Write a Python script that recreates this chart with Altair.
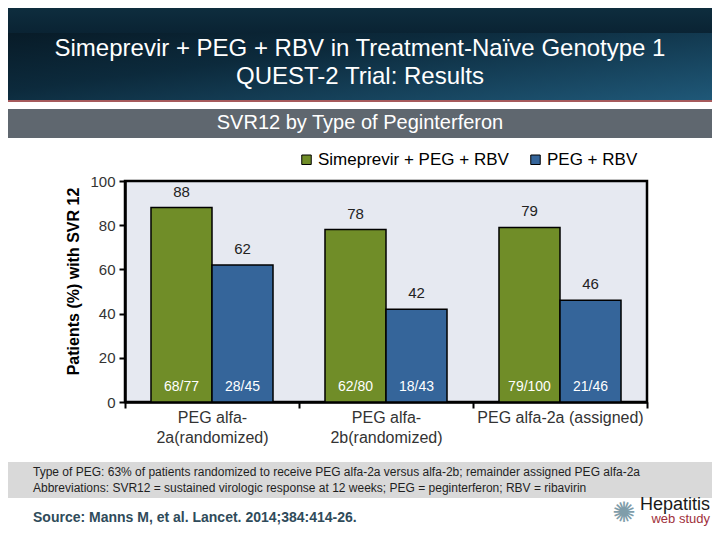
import altair as alt
import pandas as pd

# ---- data ----
groups = ["PEG alfa-|2a(randomized)", "PEG alfa-|2b(randomized)", "PEG alfa-2a (assigned)"]
series = ["Simeprevir + PEG + RBV", "PEG + RBV"]
sim_values = [88, 78, 79]
peg_values = [62, 42, 46]
sim_fracs = ["68/77", "62/80", "79/100"]
peg_fracs = ["28/45", "18/43", "21/46"]
colors = ["#708D28", "#35659A"]

title_lines = ["Simeprevir + PEG + RBV in Treatment-Naïve Genotype 1", "QUEST-2 Trial: Results"]
subtitle = "SVR12 by Type of Peginterferon"
footnotes = [
    "Type of PEG: 63% of patients randomized to receive PEG alfa-2a versus alfa-2b; remainder assigned PEG alfa-2a",
    "Abbreviations: SVR12 = sustained virologic response at 12 weeks; PEG = peginterferon; RBV = ribavirin",
]
source = "Source: Manns M, et al. Lancet. 2014;384:414-26."

rows = []
for g, v1, v2, f1, f2 in zip(groups, sim_values, peg_values, sim_fracs, peg_fracs):
    rows.append({"group": g, "series": series[0], "value": v1, "frac": f1})
    rows.append({"group": g, "series": series[1], "value": v2, "frac": f2})
df = pd.DataFrame(rows)
one = pd.DataFrame({"k": [0]})

FONT = "Liberation Sans"
W, H = 522, 221
PL, PT, PR, PB = 117, 173, 65, 124

x_enc = alt.X(
    "group:N", sort=groups,
    scale=alt.Scale(paddingInner=0, paddingOuter=0),
    axis=alt.Axis(
        title=None, labelAngle=0, labelExpr="split(datum.label, '|')",
        labelFontSize=16, labelColor="#333333", labelLineHeight=20, labelFont=FONT,
        tickBand="extent", tickSize=6, tickWidth=2, tickColor="black",
        domainColor="black", domainWidth=2.5, labelPadding=1,
    ),
)
xoff = alt.XOffset("series:N", sort=series, scale=alt.Scale(paddingOuter=0.426, paddingInner=0))
y_enc = alt.Y(
    "value:Q", scale=alt.Scale(domain=[0, 100], nice=False),
    axis=alt.Axis(
        values=[0, 20, 40, 60, 80, 100], grid=False,
        title="Patients (%) with SVR 12", titleFontSize=16, titleFontWeight="bold",
        titleFont=FONT, titleColor="black", titlePadding=8, titleY=100,
        labelFontSize=15, labelColor="#333333", labelFont=FONT, labelPadding=4,
        tickSize=6, tickWidth=2, tickColor="black", domainColor="black", domainWidth=2.5,
    ),
)

base = alt.Chart(df).encode(x=x_enc, xOffset=xoff)

bars = base.mark_bar(stroke="black", strokeWidth=1.5).encode(
    y=y_enc,
    color=alt.Color(
        "series:N", sort=series, scale=alt.Scale(domain=series, range=colors),
        legend=alt.Legend(
            title=None, orient="none", direction="horizontal", legendX=173, legendY=-30,
            symbolType="square", symbolSize=90, symbolStrokeColor="black", symbolStrokeWidth=1,
            labelFontSize=17, labelFont=FONT, labelColor="black", labelOffset=3, columnPadding=18,
            labelLimit=0,
        ),
    ),
)
vals = base.mark_text(fontSize=15, font=FONT, color="#222222", dy=-16, baseline="middle").encode(
    y="value:Q", text="value:Q"
)
fracs = base.mark_text(fontSize=14, font=FONT, color="white", dy=-15, baseline="middle").encode(
    y=alt.datum(0), text="frac:N"
)

# ---- slide decorations (pixel positions relative to plot origin) ----
hdr_grad = alt.LinearGradient(
    gradient="linear", x1=0, y1=0, x2=1, y2=1,
    stops=[alt.GradientStop(color="#06151F", offset=0),
           alt.GradientStop(color="#0C2A3C", offset=0.45),
           alt.GradientStop(color="#1F5878", offset=1)],
)
top_grad = alt.LinearGradient(
    gradient="linear", x1=0, y1=0, x2=0, y2=1,
    stops=[alt.GradientStop(color="#0E2D3E", offset=0),
           alt.GradientStop(color="#0A2333", offset=1)],
)
X0, X1 = -PL, W + PR
header = alt.Chart(one).mark_rect(fill=hdr_grad).encode(
    x=alt.value(X0), x2=alt.value(X1), y=alt.value(-PT), y2=alt.value(-81))
topband = alt.Chart(one).mark_rect(fill=top_grad).encode(
    x=alt.value(X0), x2=alt.value(X1), y=alt.value(-PT), y2=alt.value(-148))
redline = alt.Chart(one).mark_rect(fill="#A65A5C").encode(
    x=alt.value(X0), x2=alt.value(X1), y=alt.value(-81), y2=alt.value(-79))
greyband = alt.Chart(one).mark_rect(fill="#5F676F").encode(
    x=alt.value(X0), x2=alt.value(X1), y=alt.value(-72), y2=alt.value(-43))
footband = alt.Chart(one).mark_rect(fill="#D9D9D9").encode(
    x=alt.value(X0), x2=alt.value(X1), y=alt.value(281), y2=alt.value(317))

t1 = alt.Chart(one).mark_text(text=title_lines[0], fontSize=24, font=FONT, color="white").encode(
    x=alt.value(235), y=alt.value(-132))
t2 = alt.Chart(one).mark_text(text=title_lines[1], fontSize=24, font=FONT, color="white").encode(
    x=alt.value(235), y=alt.value(-104))
st = alt.Chart(one).mark_text(text=subtitle, fontSize=20, font=FONT, color="white").encode(
    x=alt.value(235), y=alt.value(-58))
f1 = alt.Chart(one).mark_text(text=footnotes[0], fontSize=12, font=FONT, color="#1F1F1F", align="left").encode(
    x=alt.value(-92), y=alt.value(291))
f2 = alt.Chart(one).mark_text(text=footnotes[1], fontSize=12, font=FONT, color="#1F1F1F", align="left").encode(
    x=alt.value(-92), y=alt.value(307))
src = alt.Chart(one).mark_text(text=source, fontSize=14, font=FONT, fontWeight="bold", color="#2F4B5A", align="left").encode(
    x=alt.value(-92), y=alt.value(337))
logo1 = alt.Chart(one).mark_text(text="Hepatitis", fontSize=18, font=FONT, color="#1A1A1A", align="right").encode(
    x=alt.value(585), y=alt.value(324))
logo2 = alt.Chart(one).mark_text(text="web study", fontSize=13, font=FONT, color="#A0303A", align="right").encode(
    x=alt.value(585), y=alt.value(338))
logo_ic = alt.Chart(one).mark_text(text="✺", fontSize=28, font="DejaVu Sans", color="#7F9DAA").encode(
    x=alt.value(499), y=alt.value(333))

chart = alt.layer(
    header, topband, redline, greyband, footband, t1, t2, st, f1, f2, src, logo_ic, logo1, logo2,
    bars, vals, fracs,
).properties(
    width=W, height=H,
    autosize=alt.AutoSizeParams(type="none"),
    padding={"left": PL, "top": PT, "right": PR, "bottom": PB},
    background="white",
).configure_view(
    fill="#E6E9F1", stroke="black", strokeWidth=2.5
)

chart.save("out.html", embed_options={"renderer": "svg", "actions": False})
